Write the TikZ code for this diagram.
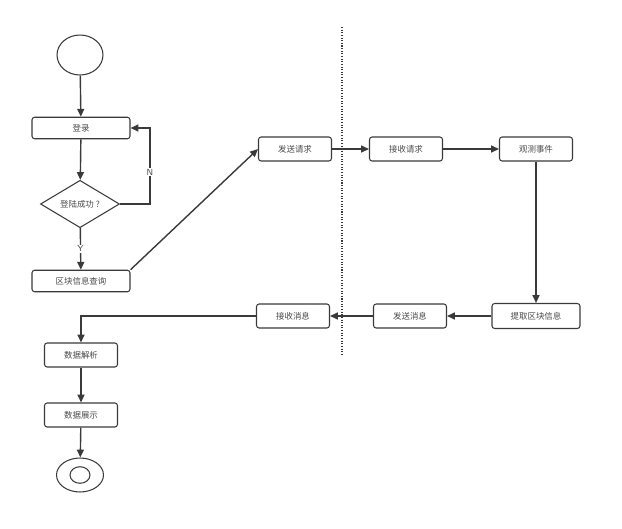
\documentclass[tikz,border=0pt]{standalone}
\usepackage{fontspec}
\newfontfamily\cjk{Noto Sans CJK SC}
\usepackage{tikz}
\usetikzlibrary{calc}
\usetikzlibrary{shapes.geometric}
\usetikzlibrary{arrows.meta}
\usetikzlibrary{positioning}

\definecolor{linegray}{HTML}{3A3A3A}
\definecolor{textgray}{HTML}{4A4A4A}

\tikzset{
    flowbox/.style={draw=linegray,line width=0.6pt,rounded corners=1.5pt,fill=white,
        minimum height=0.48cm,minimum width=1.46cm,inner sep=0pt,
        font=\cjk\fontsize{4.8}{6}\selectfont,text=textgray},
    widebox/.style={flowbox,minimum width=1.96cm,minimum height=0.43cm},
    flowline/.style={draw=linegray,line width=0.8pt,-{Triangle[length=4.5pt,width=4pt]}},
    edgelabel/.style={fill=white,inner sep=0.5pt,font=\sffamily\fontsize{5}{6}\selectfont,text=textgray}
}

\begin{document}
\begin{tikzpicture}[x=0.02cm,y=-0.02cm]
        \useasboundingbox (0,0) rectangle (622,528);

        \node[draw=linegray,line width=0.6pt,ellipse,minimum width=0.92cm,minimum height=0.8cm] (start) at (80,55) {};
        \node[widebox] (login) at (81,128) {登录};
        \node[draw=linegray,line width=0.6pt,diamond,minimum width=1.58cm,minimum height=0.9cm,inner sep=0pt,
            font=\cjk\fontsize{4.8}{6}\selectfont,text=textgray] (check) at (80,204) {登陆成功 ?};
        \node[widebox] (query) at (81,281) {区块信息查询};

        \node[flowbox] (sendreq) at (295,149) {发送请求};
        \node[flowbox] (recvreq) at (406,149) {接收请求};
        \node[flowbox] (observe) at (536,149) {观测事件};

        \node[flowbox,minimum width=1.76cm,minimum height=0.5cm] (extract) at (536,316) {提取区块信息};
        \node[flowbox] (sendmsg) at (410,316) {发送消息};
        \node[flowbox] (recvmsg) at (293,316) {接收消息};

        \node[flowbox] (parse) at (81,355) {数据解析};
        \node[flowbox] (show) at (81,415) {数据展示};
        \node[draw=linegray,line width=0.6pt,ellipse,minimum width=0.94cm,minimum height=0.68cm] (finish) at (80,475) {};
        \node[draw=linegray,line width=0.6pt,ellipse,minimum width=0.4cm,minimum height=0.32cm] at (finish.center) {};

        \coordinate (top) at (342,27);
        \coordinate (bottom) at (342,355);
        \draw[linegray,line width=0.6pt,dash pattern=on 0.6pt off 0.9pt] (top)--(bottom);

        \draw[flowline] (start)--(login);
        \draw[flowline] (login)--(check);
        \draw[flowline] (check.east)--++(30,0)|-(login.east) node[pos=0.21,edgelabel] {N};
        \draw[flowline] (check)--(query) node[pos=0.5,edgelabel] {Y};
        \draw[flowline] (query.north east)--(sendreq.west);
        \draw[flowline] (sendreq)--(recvreq);
        \draw[flowline] (recvreq)--(observe);
        \draw[flowline] (observe)--(extract);
        \draw[flowline] (extract)--(sendmsg);
        \draw[flowline] (sendmsg)--(recvmsg);
        \draw[flowline] (recvmsg.west)-|(parse.north);
        \draw[flowline] (parse)--(show);
        \draw[flowline] (show)--(finish);
    \end{tikzpicture}
\end{document}
